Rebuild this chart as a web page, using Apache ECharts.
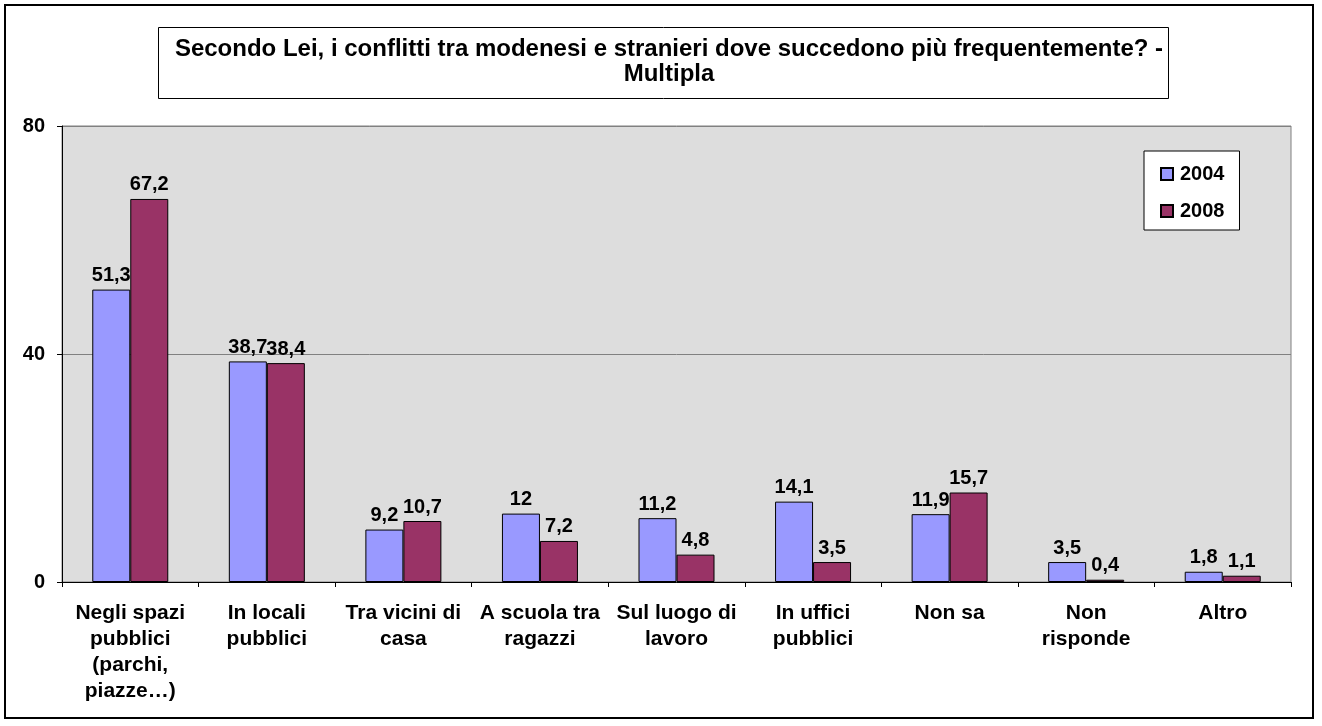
<!DOCTYPE html>
<html>
<head>
<meta charset="utf-8">
<script src="https://cdn.jsdelivr.net/npm/echarts@6/dist/echarts.min.js"></script>
<style>
  html, body { margin: 0; padding: 0; background: #fff; }
  #chart { width: 1322px; height: 726px; }
</style>
</head>
<body>
<div id="chart"></div>
<script>
// dati
const categories = [
  'Negli spazi\npubblici\n(parchi,\npiazze…)',
  'In locali\npubblici',
  'Tra vicini di\ncasa',
  'A scuola tra\nragazzi',
  'Sul luogo di\nlavoro',
  'In uffici\npubblici',
  'Non sa',
  'Non\nrisponde',
  'Altro'
]
const values2004 = [51.3, 38.7, 9.2, 12, 11.2, 14.1, 11.9, 3.5, 1.8]
const values2008 = [67.2, 38.4, 10.7, 7.2, 4.8, 3.5, 15.7, 0.4, 1.1]
const titleText = 'Secondo Lei, i conflitti tra modenesi e stranieri dove succedono più frequentemente? -\nMultipla'

const chart = echarts.init(document.getElementById('chart'))
const font = 'Liberation Sans, Arial, sans-serif'

const labelOpt = {
  show: true,
  position: 'top',
  distance: 4,
  color: '#000',
  fontFamily: font,
  fontWeight: 'bold',
  fontSize: 20,
  formatter: p => String(p.value).replace('.', ',')
}

const option = {
  animation: false,
  textStyle: { fontFamily: font },
  graphic: [
    {
      type: 'rect',
      shape: { x: 5, y: 5, width: 1308, height: 713 },
      style: { fill: 'none', stroke: '#000', lineWidth: 2 },
      silent: true
    },
    {
      type: 'rect',
      shape: { x: 158.5, y: 27.5, width: 1010, height: 71 },
      style: { fill: '#fff', stroke: '#000', lineWidth: 1 },
      silent: true
    }
  ],
  title: {
    text: titleText,
    left: 664,
    top: 32,
    textAlign: 'center',
    textStyle: {
      fontFamily: font,
      fontWeight: 'bold',
      fontSize: 24,
      color: '#000',
      lineHeight: 25
    }
  },
  legend: {
    data: ['2004', '2008'],
    orient: 'vertical',
    left: 1144,
    top: 151,
    padding: [13, 15, 9, 16],
    itemGap: 17,
    itemWidth: 12,
    itemHeight: 12,
    icon: 'rect',
    backgroundColor: '#fff',
    borderColor: '#000',
    borderWidth: 1,
    borderRadius: 0,
    textStyle: {
      fontFamily: font,
      fontWeight: 'bold',
      fontSize: 20,
      color: '#000',
      padding: [0, 0, 0, 2]
    }
  },
  grid: {
    left: 62,
    top: 126,
    width: 1229,
    height: 456,
    show: true,
    backgroundColor: '#dddddd',
    borderColor: '#808080',
    borderWidth: 1,
    containLabel: false
  },
  xAxis: {
    type: 'category',
    data: categories,
    axisLine: { lineStyle: { color: '#000', width: 1 } },
    axisTick: { show: true, alignWithLabel: false, length: 5, lineStyle: { color: '#000' } },
    axisLabel: {
      interval: 0,
      margin: 18,
      color: '#000',
      fontFamily: font,
      fontWeight: 'bold',
      fontSize: 21,
      lineHeight: 26,
      align: 'center'
    },
    splitLine: { show: false }
  },
  yAxis: {
    type: 'value',
    min: 0,
    max: 80,
    interval: 40,
    axisLine: { show: true, lineStyle: { color: '#000', width: 1 } },
    axisTick: { show: true, length: 5, lineStyle: { color: '#000' } },
    axisLabel: {
      color: '#000',
      fontFamily: font,
      fontWeight: 'bold',
      fontSize: 20,
      margin: 17
    },
    splitLine: { show: true, lineStyle: { color: '#808080', width: 1 } }
  },
  series: [
    {
      name: '2004',
      type: 'bar',
      data: values2004,
      barWidth: 38,
      barGap: '0%',
      itemStyle: { color: '#9999ff', borderColor: '#000', borderWidth: 1 },
      label: labelOpt
    },
    {
      name: '2008',
      type: 'bar',
      data: values2008,
      barWidth: 38,
      barGap: '0%',
      itemStyle: { color: '#993366', borderColor: '#000', borderWidth: 1 },
      label: labelOpt
    }
  ]
}

chart.setOption(option)
</script>
</body>
</html>
